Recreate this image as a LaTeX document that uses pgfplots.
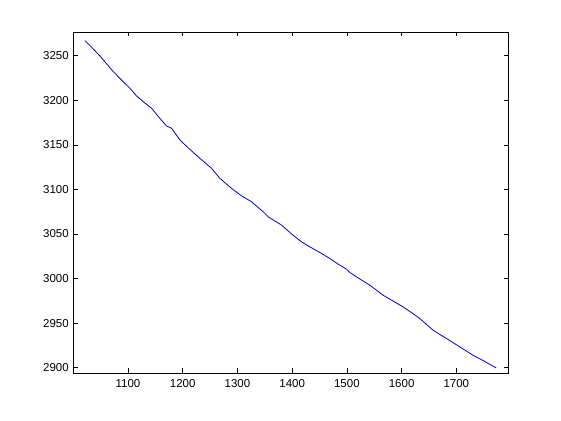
\documentclass[border=0pt]{standalone}
\usepackage{pgfplots}
\pgfplotsset{compat=1.18}
\usepackage{fontspec}
\setmainfont{Liberation Sans}
\begin{document}
\begin{tikzpicture}
\path[use as bounding box] (0pt,0pt) rectangle (561pt,420pt);
\begin{axis}[
  at={(73.3pt,47pt)}, anchor=origin,
  scale only axis, width=435pt, height=341pt,
  xmin=1000, xmax=1795, ymin=2894.2, ymax=3276.6,
  xtick={1100,1200,...,1700}, ytick={2900,2950,...,3250},
  tick align=inside, major tick length=4.5pt,
  axis line style={black, line width=0.6pt},
  tick style={black, line width=0.6pt},
  /pgf/number format/assume math mode=true,
  /pgf/number format/1000 sep={},
  ticklabel style={font=\fontsize{11.5}{13}\selectfont},
  xticklabel style={yshift=-3pt},
  yticklabel style={xshift=-1pt},
  disabledatascaling,
]
\addplot[color={rgb,1:red,0;green,0;blue,0.8}, line width=0.8pt, no marks] coordinates {
(1021.4,3266.8) (1035,3258.5) (1048.7,3249.7) (1060,3241.5) (1073.0,3232.1)
(1088,3222.8) (1103.5,3213.4) (1115,3205.2) (1127.8,3198.4) (1143.1,3191.0)
(1157,3180.5) (1170.5,3171.1) (1179.6,3168.6) (1194.8,3155.4) (1212,3145.5)
(1231.3,3134.9) (1252.6,3123.7) (1267.8,3112.5) (1289.2,3101.2) (1307,3093.0)
(1325.7,3086.2) (1346.8,3075.0) (1356.0,3069.4) (1380.4,3060.1) (1398,3050.5)
(1416.9,3041.3) (1432.1,3035.7) (1450,3029.5) (1468.6,3022.7) (1484,3016.2)
(1499.1,3010.7) (1505.1,3007.0) (1522,3000.2) (1541.6,2992.8) (1565.9,2981.5)
(1584,2975.0) (1602.4,2968.4) (1618,2962.0) (1632.9,2955.4) (1657.2,2942.3)
(1681.6,2933.0) (1705.9,2923.6) (1730.2,2914.2) (1750,2907.8) (1772.9,2899.8)
};
\end{axis}
\end{tikzpicture}
\end{document}
